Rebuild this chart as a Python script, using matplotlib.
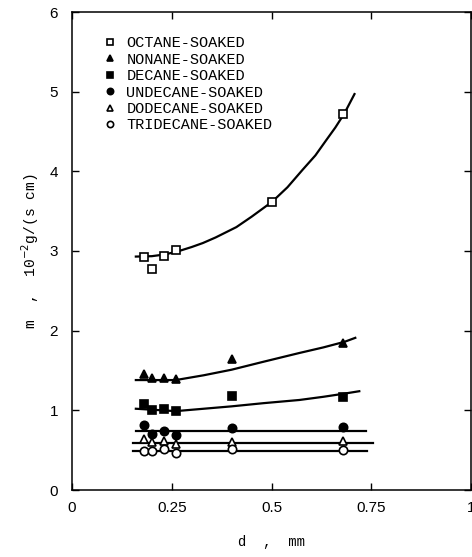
import numpy as np
import matplotlib.pyplot as plt

plt.rcParams.update({
    'font.size': 10,
    'font.family': 'Liberation Sans',
    'axes.linewidth': 1.1,
})

# measured points
x_pts = [0.18, 0.20, 0.23, 0.26, 0.40, 0.68]
x_oct = [0.18, 0.20, 0.23, 0.26, 0.50, 0.68]
m_octane = [2.93, 2.78, 2.94, 3.01, 3.62, 4.72]
m_nonane = [1.46, 1.40, 1.41, 1.39, 1.64, 1.85]
m_decane = [1.08, 1.00, 1.02, 0.99, 1.18, 1.17]
m_undecane = [0.81, 0.70, 0.74, 0.69, 0.78, 0.79]
m_dodecane = [0.64, 0.60, 0.61, 0.58, 0.60, 0.62]
m_tridecane = [0.49, 0.49, 0.51, 0.47, 0.51, 0.50]

# fitted curves
fx_octane = [0.16, 0.20, 0.23, 0.262, 0.30, 0.328, 0.36, 0.412, 0.45, 0.502,
             0.54, 0.578, 0.61, 0.637, 0.66, 0.683, 0.708]
fy_octane = [2.93, 2.935, 2.955, 2.99, 3.05, 3.10, 3.17, 3.30, 3.43, 3.62,
             3.80, 4.02, 4.20, 4.39, 4.55, 4.73, 4.97]
fx_nonane = [0.16, 0.26, 0.33, 0.40, 0.48, 0.57, 0.63, 0.683, 0.71]
fy_nonane = [1.38, 1.38, 1.44, 1.51, 1.61, 1.72, 1.79, 1.86, 1.91]
fx_decane = [0.16, 0.26, 0.33, 0.40, 0.48, 0.57, 0.63, 0.683, 0.72]
fy_decane = [1.02, 0.99, 1.02, 1.05, 1.09, 1.13, 1.17, 1.21, 1.24]
fx_undecane = [0.16, 0.737]
fy_undecane = [0.74, 0.74]
fx_dodecane = [0.153, 0.755]
fy_dodecane = [0.59, 0.59]
fx_tridecane = [0.153, 0.74]
fy_tridecane = [0.49, 0.49]

fig = plt.figure(figsize=(4.72, 5.57), dpi=100)
ax = fig.add_axes([72/472, 67/557, 399/472, 478/557])

mk = dict(color='black', markeredgecolor='black', linestyle='none', markeredgewidth=1.2)
ax.plot(x_oct, m_octane, marker='s', markersize=6, markerfacecolor='white', label='OCTANE-SOAKED', **mk)
ax.plot(x_pts, m_nonane, marker='^', markersize=6, markerfacecolor='black', label='NONANE-SOAKED', **mk)
ax.plot(x_pts, m_decane, marker='s', markersize=6, markerfacecolor='black', label='DECANE-SOAKED', **mk)
ax.plot(x_pts, m_undecane, marker='o', markersize=6, markerfacecolor='black', label='UNDECANE-SOAKED', **mk)
ax.plot(x_pts, m_dodecane, marker='^', markersize=5.5, markerfacecolor='white', label='DODECANE-SOAKED', **mk)
ax.plot(x_pts, m_tridecane, marker='o', markersize=6, markerfacecolor='white', label='TRIDECANE-SOAKED', **mk)

for fx, fy in [(fx_octane, fy_octane), (fx_nonane, fy_nonane), (fx_decane, fy_decane),
               (fx_undecane, fy_undecane), (fx_dodecane, fy_dodecane), (fx_tridecane, fy_tridecane)]:
    ax.plot(fx, fy, color='black', linewidth=1.6, zorder=1)

ax.set_xlim(0, 1)
ax.set_ylim(0, 6)
ax.set_xticks([0, 0.25, 0.5, 0.75, 1])
ax.set_xticklabels(['0', '0.25', '0.5', '0.75', '1'])
ax.set_yticks([0, 1, 2, 3, 4, 5, 6])
ax.tick_params(direction='in', top=True, right=True, length=5, width=1, labelsize=11)
ax.tick_params(axis='x', pad=8)
ax.tick_params(axis='y', pad=10)

ax.set_xlabel('d  ,  mm', family='Liberation Mono', fontsize=10, labelpad=14)
ax.set_ylabel(r'm  ,  10$^{-2}$g/(s cm)', family='Liberation Mono', fontsize=10.5, labelpad=6)

ax.legend(loc='upper left', bbox_to_anchor=(0.06, 0.962), frameon=False,
          prop={'family': 'Liberation Mono', 'size': 11}, markerscale=0.75,
          handlelength=1.0, handletextpad=0.6, labelspacing=0.16, borderaxespad=0)

fig.savefig('out.png', dpi=100)
